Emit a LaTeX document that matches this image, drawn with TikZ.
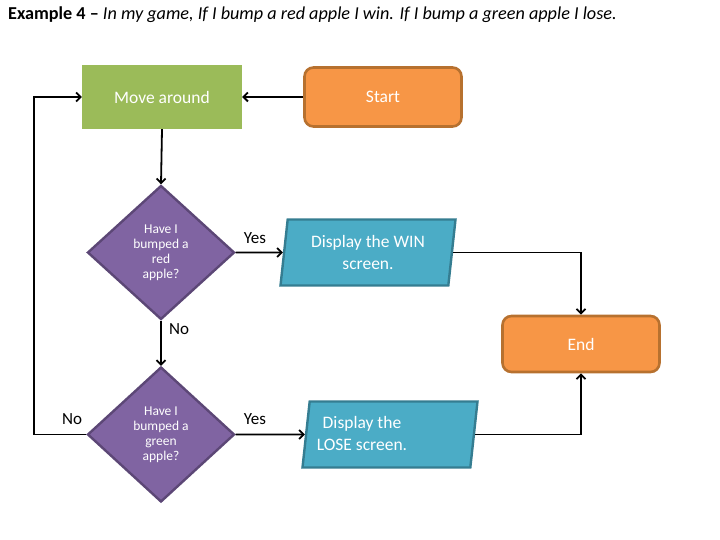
\documentclass[tikz,border=0pt]{standalone}
\usepackage{fontspec}
\setmainfont{Carlito}
\usetikzlibrary{shapes.geometric,arrows.meta}
\definecolor{gfill}{HTML}{9BBB59}
\definecolor{ofill}{HTML}{F79646}
\definecolor{odraw}{HTML}{B7712F}
\definecolor{pfill}{HTML}{8064A2}
\definecolor{pdraw}{HTML}{5C4776}
\definecolor{bfill}{HTML}{4BACC6}
\definecolor{bdraw}{HTML}{357D91}
\begin{document}
\begin{tikzpicture}[x=1pt,y=-1pt,
  boxtext/.style={text=white,font=\fontsize{17.5}{21.5}\selectfont,align=center,inner sep=0pt},
  movebox/.style={boxtext,rectangle,fill=gfill,minimum width=160pt,minimum height=64pt},
  termbox/.style={boxtext,rectangle,rounded corners=9pt,fill=ofill,draw=odraw,line width=2.6pt,minimum width=157pt,minimum height=59pt},
  decision/.style={diamond,fill=pfill,draw=pdraw,line width=2.4pt,text=white,font=\fontsize{13.5}{15}\selectfont,align=center,inner sep=0pt,minimum width=147pt},
  iobox/.style={boxtext,trapezium,trapezium left angle=78,trapezium right angle=102,trapezium stretches body=true,fill=bfill,draw=bdraw,line width=2.4pt,minimum width=175pt,minimum height=66pt},
  lbl/.style={font=\fontsize{17}{20}\selectfont,text=black,inner sep=0pt},
  flow/.style={line width=1.8pt,-{Straight Barb[length=4.5pt,width=9pt]}}]
\useasboundingbox (0,0) rectangle (720,540);
\node[anchor=base west,inner sep=0pt,font=\fontsize{18.2}{20}\selectfont] (title) at (8,19.5) {\textbf{Example 4 –} \textit{In my game, If I bump a red apple I win. If I bump a green apple I lose.}};
\node[movebox] (move) at (162,97) {Move around};
\node[termbox] (start) at (383,97) {Start};
\node[decision,minimum height=134pt] (d1) at (161,252.5) {Have I\\bumped a\\red\\apple?};
\node[decision,minimum height=135pt] (d2) at (161,434.5) {Have I\\bumped a\\green\\apple?};
\node[iobox] (win) at (368,252.5) {Display the WIN\\screen.};
\node[iobox] (lose) at (390,434.5) {\phantom{Display the WIN}\\\phantom{screen.}};
\node[boxtext] (losetext) at (362,433.5) {Display the\\LOSE screen.};
\node[termbox,minimum height=56pt] (end) at (581,344) {End};
\node[lbl] (yes1) at (255,238) {Yes};
\node[lbl] (no1) at (179,329) {No};
\node[lbl] (yes2) at (255,419) {Yes};
\node[lbl] (no2) at (72,419) {No};
\draw[flow] (start.west) -- (move.east);
\draw[flow] (move.south) -- (d1.north);
\draw[flow] (d1.east) -- (win.west);
\draw[flow] (win.east) -| (end.north);
\draw[flow] (d1.south) -- (d2.north);
\draw[flow] (d2.east) -- (lose.west);
\draw[flow] (lose.east) -| (end.south);
\draw[flow] (d2.west) -- ++(-52,0) |- (move.west);
\end{tikzpicture}
\end{document}
